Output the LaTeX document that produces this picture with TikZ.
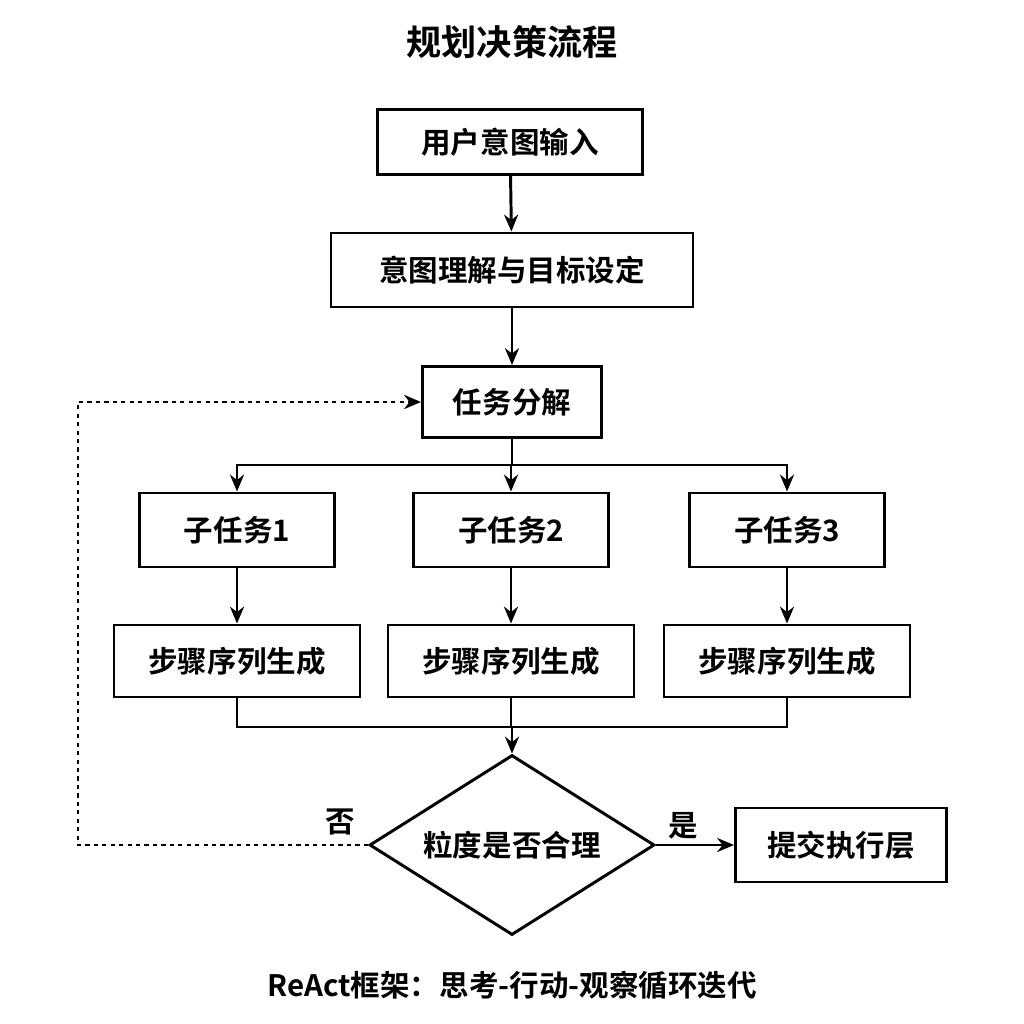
\documentclass[tikz,border=0pt]{standalone}
\usepackage{fontspec}
\setmainfont{Noto Sans CJK SC}[BoldFont={* Bold}]
\usetikzlibrary{positioning, arrows.meta, shapes.geometric}
\begin{document}
\begin{tikzpicture}[x=0.025cm, y=-0.025cm, line width=2.1pt,
    >={Stealth[length=12pt,width=10pt]},
    box/.style={draw, rectangle, font=\fontsize{21}{25}\selectfont\bfseries, inner sep=0pt},
    lab/.style={font=\fontsize{21}{25}\selectfont\bfseries}]
  \useasboundingbox (0,0) rectangle (1024,1024);

  % Titel
  \node[font=\fontsize{25}{30}\selectfont\bfseries] (title) at (512,42) {规划决策流程};

  % Kästen
  \node[box, minimum width=265*0.025cm, minimum height=65*0.025cm] (input) at (510,142) {用户意图输入};
  \node[box, minimum width=362*0.025cm, minimum height=74*0.025cm] (goal) at (512,270) {意图理解与目标设定};
  \node[box, minimum width=179*0.025cm, minimum height=71*0.025cm] (split) at (512,402) {任务分解};
  \foreach \i/\x in {1/237,2/511,3/787}{
    \node[box, minimum width=195*0.025cm, minimum height=74*0.025cm] (sub\i) at (\x,530) {子任务\i};
    \node[box, minimum width=246*0.025cm, minimum height=72*0.025cm] (step\i) at (\x,661) {步骤序列生成};
  }
  \node[draw, diamond, aspect=1.58, inner sep=0pt, minimum width=285*0.025cm, minimum height=180*0.025cm,
        font=\fontsize{21}{25}\selectfont\bfseries] (check) at (512,845) {粒度是否合理};
  \node[box, minimum width=211*0.025cm, minimum height=74*0.025cm] (exec) at (841,845) {提交执行层};
  \coordinate (fork) at (512,465);
  \coordinate (join) at (512,727);
  \coordinate (back) at (78,845);

  % Pfeile
  \draw[->] (input) -- (goal);
  \draw[->] (goal) -- (split);
  \draw (split) -- (fork);
  \foreach \i in {1,2,3}{
    \draw[->] (fork) -| (sub\i);
    \draw[->] (sub\i) -- (step\i);
    \draw (step\i) |- (join);
  }
  \draw[->] (join) -- (check);
  \draw[->] (check) -- node[lab, above, pos=0.35] {是} (exec);
  \draw[->, dashed] (check.west) -- (back) |- (split.west);
  \node[lab] (no) at (340,822) {否};

  % Fußzeile
  \node[lab] (foot) at (512,985) {ReAct框架：思考-行动-观察循环迭代};
\end{tikzpicture}
\end{document}
